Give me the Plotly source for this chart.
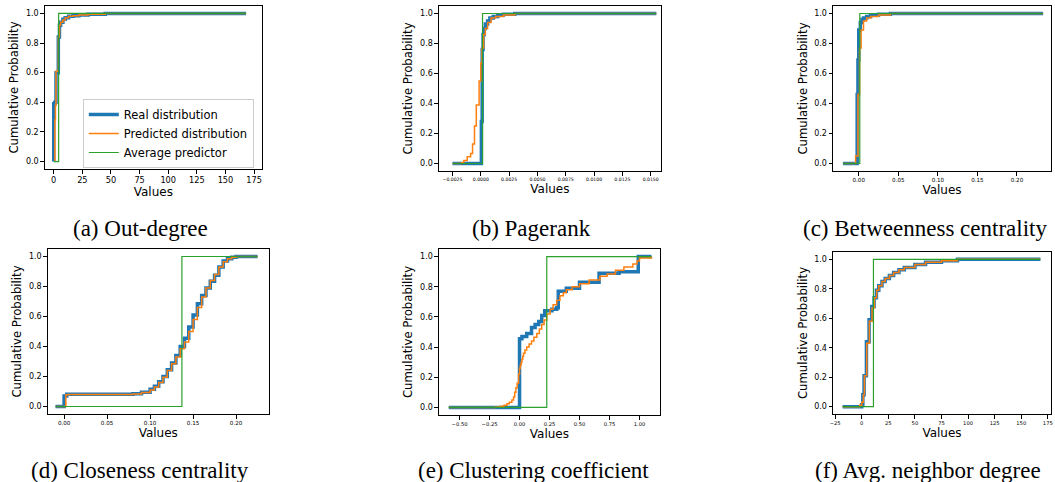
import plotly.graph_objects as go

W, H = 1055, 482

# ---------------- data ----------------
# (a) Out-degree
outdeg_real_x = [0, 0, 1, 2, 4, 5, 6, 8, 10, 13, 17, 22, 30, 45, 168]
outdeg_real_y = [0, 0.39, 0.40, 0.60, 0.84, 0.92, 0.94, 0.96, 0.97, 0.98, 0.985, 0.99, 0.995, 1.0, 1.0]
outdeg_pred_x = [1, 1, 1.5, 2, 4, 5, 6, 8, 10, 13, 17, 22, 30, 45, 168]
outdeg_pred_y = [0, 0.28, 0.38, 0.61, 0.84, 0.92, 0.94, 0.955, 0.97, 0.98, 0.985, 0.99, 0.995, 1.0, 1.0]
outdeg_avg = [0, 4.3, 168]          # min, mean, max

# (b) Pagerank
pagerank_real_x = [-0.0025, 0.00005, 0.00012, 0.0002, 0.0003, 0.0004, 0.0006, 0.0008, 0.0011, 0.0015, 0.002, 0.003, 0.0155]
pagerank_real_y = [0, 0.28, 0.76, 0.86, 0.90, 0.93, 0.95, 0.97, 0.98, 0.99, 0.995, 1.0, 1.0]
pagerank_pred_x = [-0.0025, -0.0017, -0.0015, -0.0012, -0.0009, -0.00073, -0.00056, -0.0004, -0.00015, 0.0,
                   0.0001, 0.00025, 0.0004, 0.0006, 0.0009, 0.0013, 0.002, 0.003, 0.0155]
pagerank_pred_y = [0, 0.005, 0.02, 0.045, 0.067, 0.13, 0.25, 0.39, 0.55, 0.67,
                   0.77, 0.86, 0.90, 0.94, 0.97, 0.98, 0.99, 1.0, 1.0]
pagerank_avg = [-0.0025, 0.00015, 0.0155]

# (c) Betweenness centrality
between_real_x = [-0.02, -0.002, -0.001, 0.0, 0.002, 0.004, 0.006, 0.01, 0.015, 0.025, 0.04, 0.233]
between_real_y = [0, 0.46, 0.69, 0.89, 0.94, 0.96, 0.97, 0.98, 0.99, 0.995, 1.0, 1.0]
between_pred_x = [-0.02, -0.004, -0.001, 0.001, 0.003, 0.006, 0.01, 0.015, 0.025, 0.04, 0.233]
between_pred_y = [0, 0.05, 0.46, 0.77, 0.89, 0.95, 0.97, 0.98, 0.99, 1.0, 1.0]
between_avg = [-0.02, 0.0013, 0.233]

# (d) Closeness centrality
close_real_x = [-0.01, 0.0, 0.003, 0.08, 0.09, 0.1, 0.105, 0.11, 0.115, 0.12, 0.125, 0.13, 0.135, 0.14,
                0.145, 0.15, 0.155, 0.16, 0.165, 0.17, 0.175, 0.18, 0.185, 0.19, 0.195, 0.2, 0.225]
close_real_y = [0, 0.07, 0.082, 0.085, 0.095, 0.115, 0.135, 0.165, 0.20, 0.245, 0.29, 0.34, 0.40, 0.455,
                0.53, 0.61, 0.685, 0.74, 0.79, 0.835, 0.875, 0.93, 0.97, 0.985, 0.995, 1.0, 1.0]
close_pred_x = [-0.01, 0.002, 0.005, 0.08, 0.09, 0.1, 0.105, 0.11, 0.115, 0.12, 0.125, 0.13, 0.135, 0.14,
                0.145, 0.15, 0.155, 0.16, 0.165, 0.17, 0.175, 0.18, 0.185, 0.19, 0.195, 0.2, 0.225]
close_pred_y = [0, 0.078, 0.08, 0.083, 0.093, 0.11, 0.13, 0.16, 0.195, 0.24, 0.285, 0.33, 0.385, 0.43,
                0.50, 0.58, 0.66, 0.73, 0.79, 0.84, 0.88, 0.93, 0.965, 0.985, 0.995, 1.0, 1.0]
close_avg = [-0.01, 0.137, 0.225]

# (e) Clustering coefficient
clust_real_x = [-0.59, 0.0, 0.02, 0.06, 0.1, 0.13, 0.16, 0.185, 0.21, 0.27, 0.31, 0.323, 0.39, 0.5,
                0.663, 0.83, 0.99, 1.1]
clust_real_y = [0, 0.455, 0.47, 0.49, 0.53, 0.55, 0.57, 0.61, 0.64, 0.65, 0.66, 0.77, 0.79, 0.83,
                0.89, 0.90, 1.0, 1.0]
clust_pred_x = [-0.59, -0.2, -0.16, -0.13, -0.105, -0.085, -0.064, -0.05, -0.04, -0.03, -0.02, -0.008, 0.0,
                0.006, 0.013, 0.02, 0.027, 0.033, 0.045, 0.06, 0.08, 0.1, 0.12, 0.144, 0.165, 0.185, 0.205,
                0.227, 0.255, 0.28, 0.31, 0.337, 0.365, 0.39, 0.44, 0.5, 0.58, 0.67, 0.73, 0.8, 0.87,
                0.945, 0.98, 1.0, 1.1]
clust_pred_y = [0, 0.003, 0.008, 0.015, 0.025, 0.035, 0.05, 0.07, 0.10, 0.13, 0.16, 0.22, 0.26,
                0.28, 0.30, 0.32, 0.34, 0.36, 0.38, 0.40, 0.42, 0.44, 0.465, 0.49, 0.52, 0.55, 0.58,
                0.62, 0.65, 0.68, 0.71, 0.74, 0.76, 0.78, 0.80, 0.82, 0.845, 0.87, 0.885, 0.91, 0.93,
                0.95, 0.97, 0.99, 1.0]
clust_avg = [-0.59, 0.227, 1.1]

# (f) Avg. neighbor degree
neigh_real_x = [-18, 0, 1, 2.2, 4.4, 6.9, 9.4, 11.6, 13.8, 16, 19, 22, 26, 30, 35, 40, 50, 60, 75, 90, 168]
neigh_real_y = [0, 0.013, 0.08, 0.21, 0.44, 0.59, 0.68, 0.74, 0.79, 0.82, 0.85, 0.87, 0.89, 0.91, 0.93,
                0.945, 0.965, 0.98, 0.99, 1.0, 1.0]
neigh_pred_x = [-18, -2, 0, 1.5, 2.5, 4.7, 7.2, 9.7, 11.9, 14, 16, 19, 22, 26, 30, 35, 40, 50, 60, 75, 90, 168]
neigh_pred_y = [0, 0.01, 0.03, 0.08, 0.21, 0.43, 0.58, 0.67, 0.74, 0.79, 0.82, 0.85, 0.87, 0.89, 0.91,
                0.93, 0.945, 0.965, 0.98, 0.99, 1.0, 1.0]
neigh_avg = [-18, 11.0, 168]

captions = ["(a) Out-degree", "(b) Pagerank", "(c) Betweenness centrality",
            "(d) Closeness centrality", "(e) Clustering coefficient", "(f) Avg. neighbor degree"]
series_names = ["Real distribution", "Predicted distribution", "Average predictor"]

# x tick labels per panel
xticks_a = [0, 25, 50, 75, 100, 125, 150, 175]
xticks_b = [-0.0025, 0.0, 0.0025, 0.005, 0.0075, 0.01, 0.0125, 0.015]
xticks_c = [0.0, 0.05, 0.1, 0.15, 0.2]
xticks_d = [0.0, 0.05, 0.1, 0.15, 0.2]
xticks_e = [-0.5, -0.25, 0.0, 0.25, 0.5, 0.75, 1.0]
xticks_f = [-25, 0, 25, 50, 75, 100, 125, 150, 175]
yticks = [0.0, 0.2, 0.4, 0.6, 0.8, 1.0]

# ---------------- layout / styling ----------------
BLUE, ORANGE, GREEN = "#1f77b4", "#ff7f0e", "#2ca02c"
FONT = "DejaVu Sans"

panels = [
    dict(rx=outdeg_real_x, ry=outdeg_real_y, px=outdeg_pred_x, py=outdeg_pred_y, avg=outdeg_avg,
         box=(42, 260, 6, 169), xr=[-7.8, 181.7], xt=xticks_a, fmt="d", tfs=8.2, cap=(138, 228)),
    dict(rx=pagerank_real_x, ry=pagerank_real_y, px=pagerank_pred_x, py=pagerank_pred_y, avg=pagerank_avg,
         box=(438, 661, 6, 171), xr=[-0.0037, 0.0159], xt=xticks_b, fmt=".4f", tfs=4.6, cap=(531, 228)),
    dict(rx=between_real_x, ry=between_real_y, px=between_pred_x, py=between_pred_y, avg=between_avg,
         box=(834, 1053, 6, 171), xr=[-0.0325, 0.243], xt=xticks_c, fmt=".2f", tfs=5.6, cap=(926, 228)),
    dict(rx=close_real_x, ry=close_real_y, px=close_pred_x, py=close_pred_y, avg=close_avg,
         box=(45, 267, 249, 414), xr=[-0.019, 0.238], xt=xticks_d, fmt=".2f", tfs=5.6, cap=(138, 470)),
    dict(rx=clust_real_x, ry=clust_real_y, px=clust_pred_x, py=clust_pred_y, avg=clust_avg,
         box=(438, 660, 249, 415), xr=[-0.672, 1.17], xt=xticks_e, fmt=".2f", tfs=5.2, cap=(533, 470)),
    dict(rx=neigh_real_x, ry=neigh_real_y, px=neigh_pred_x, py=neigh_pred_y, avg=neigh_avg,
         box=(834, 1053, 252, 414), xr=[-27, 178], xt=xticks_f, fmt="d", tfs=5.2, cap=(929, 470)),
]

fig = go.Figure()
annotations = []
layout = dict(
    width=W, height=H, margin=dict(l=0, r=0, t=0, b=0),
    paper_bgcolor="white", plot_bgcolor="white",
    font=dict(family=FONT, color="black"),
    showlegend=True,
)

for i, p in enumerate(panels):
    n = i + 1
    xa = "x" if n == 1 else f"x{n}"
    ya = "y" if n == 1 else f"y{n}"
    show = (n == 1)
    fig.add_trace(go.Scatter(x=p["rx"], y=p["ry"], mode="lines", line=dict(color=BLUE, width=3.5, shape="hv"),
                             name=series_names[0], showlegend=show, xaxis=xa, yaxis=ya, hoverinfo="skip"))
    fig.add_trace(go.Scatter(x=p["px"], y=p["py"], mode="lines", line=dict(color=ORANGE, width=1.5, shape="hv"),
                             name=series_names[1], showlegend=show, xaxis=xa, yaxis=ya, hoverinfo="skip"))
    amin, amean, amax = p["avg"]
    fig.add_trace(go.Scatter(x=[amin, amean, amax], y=[0, 1, 1], mode="lines",
                             line=dict(color=GREEN, width=1.2, shape="hv"),
                             name=series_names[2], showlegend=show, xaxis=xa, yaxis=ya, hoverinfo="skip"))
    l, r, t, b = p["box"]
    common = dict(showline=True, linecolor="black", linewidth=1, mirror=True, ticks="outside",
                  ticklen=3.5, tickwidth=0.8, tickcolor="black", showgrid=False, zeroline=False)
    layout["xaxis" if n == 1 else f"xaxis{n}"] = dict(
        domain=[l / W, r / W], anchor=ya, range=p["xr"], tickmode="array", tickvals=p["xt"],
        tickformat=p["fmt"], tickfont=dict(size=p["tfs"], family=FONT),
        title=dict(text="Values", font=dict(size=12, family=FONT), standoff=3), **common)
    layout["yaxis" if n == 1 else f"yaxis{n}"] = dict(
        domain=[1 - b / H, 1 - t / H], anchor=xa, range=[-0.05, 1.05], tickmode="array", tickvals=yticks,
        tickformat=".1f", tickfont=dict(size=8, family=FONT),
        title=dict(text="Cumulative Probability", font=dict(size=11.7, family=FONT), standoff=4), **common)
    cx, cy = p["cap"]
    annotations.append(dict(text=captions[i], x=cx / W, y=1 - cy / H, xref="paper", yref="paper",
                            xanchor="center", yanchor="middle", showarrow=False,
                            font=dict(family="Liberation Serif", size=23, color="black")))

layout["annotations"] = annotations
layout["legend"] = dict(x=252 / W, y=1 - 168 / H, xanchor="right", yanchor="bottom",
                        bgcolor="rgba(255,255,255,0.8)", bordercolor="#cccccc", borderwidth=1,
                        font=dict(size=11.5, family=FONT), itemwidth=30, tracegroupgap=0)
fig.update_layout(**layout)
fig.write_html("out.html", config={"displayModeBar": False},
               post_script="document.body.style.margin='0px';document.body.style.padding='0px';")
